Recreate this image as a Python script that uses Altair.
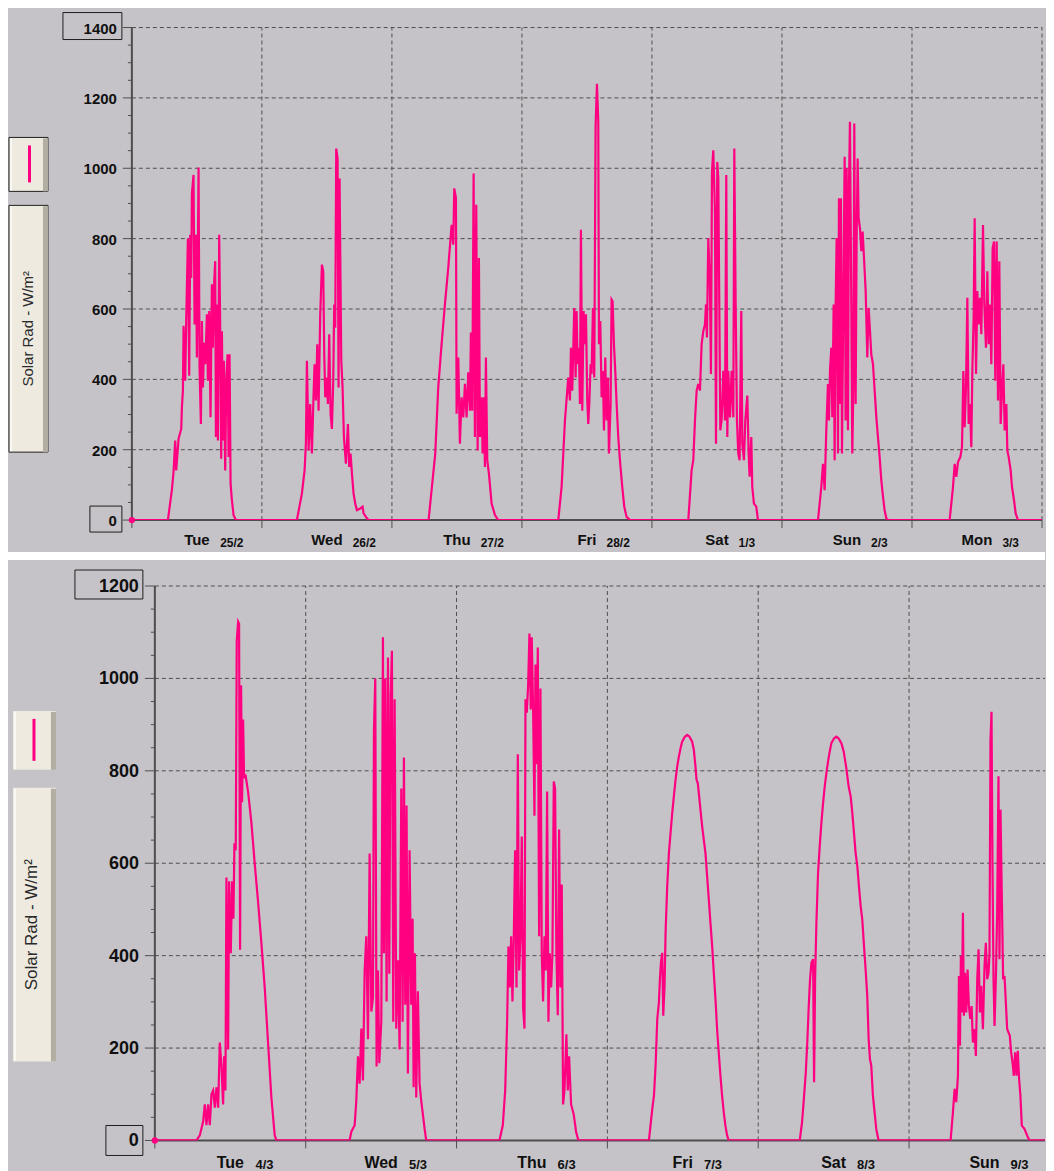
import altair as alt
import pandas as pd

GRAY = "#C5C3C7"
PINK = "#FF0080"
GRID = "#4E4E4E"
BEIGE = "#EEEAE0"
SHADOW = "#B2AEA2"
FONT = "Liberation Sans"

# ---------------- week 1 (top panel) ----------------
week1_days = ["Tue", "Wed", "Thu", "Fri", "Sat", "Sun", "Mon"]
week1_dates = ["25/2", "26/2", "27/2", "28/2", "1/3", "2/3", "3/3"]
week1_ticks = [0, 200, 400, 600, 800, 1000, 1200, 1400]

tue_25_2 = [(6.65,0),(7.38,85),(7.69,137),(8.00,226),(8.18,141),(8.62,231),(9.11,259),(9.23,320),(9.42,368),(9.54,552),(9.85,396),(10.03,570),(10.34,800),(10.58,410),(10.77,811),(10.95,688),(11.08,929),(11.38,981),(11.57,556),(11.82,811),(12.00,462),(12.31,1002),(12.49,434),(12.74,273),(12.92,566),(13.11,377),(13.35,504),(13.54,443),(13.85,585),(14.03,396),(14.28,594),(14.52,292),(14.77,670),(14.95,490),(15.20,679),(15.38,736),(15.51,236),(15.69,613),(15.88,226),(16.12,811),(16.31,537),(16.49,174),(16.62,537),(16.80,226),(16.98,453),(17.23,141),(17.42,396),(17.66,471),(17.85,179),(18.03,471),(18.22,104),(18.46,57),(18.77,14),(19.20,0)]
wed_26_2 = [(6.46,0),(7.38,75),(7.88,141),(8.12,217),(8.31,453),(8.62,198),(8.92,330),(9.23,189),(9.54,358),(9.72,443),(9.97,340),(10.22,500),(10.46,311),(10.77,585),(11.08,726),(11.32,707),(11.51,471),(11.69,349),(12.00,405),(12.18,330),(12.43,528),(12.68,302),(12.92,259),(13.17,396),(13.35,613),(13.54,547),(13.72,1056),(13.97,1028),(14.15,377),(14.34,971),(14.65,453),(14.89,377),(15.14,236),(15.51,160),(15.88,273),(16.12,151),(16.37,189),(16.62,132),(16.92,75),(17.23,47),(17.54,28),(18.15,33),(18.58,38),(18.77,19),(19.38,5),(19.69,0)]
thu_27_2 = [(6.77,0),(7.38,94),(8.00,189),(8.55,377),(9.17,500),(9.78,613),(10.40,717),(11.02,839),(11.32,783),(11.51,943),(11.82,915),(11.94,302),(12.25,462),(12.55,217),(12.86,349),(13.17,292),(13.48,387),(13.78,292),(14.09,420),(14.40,311),(14.58,533),(14.83,311),(15.08,985),(15.32,236),(15.57,896),(15.82,198),(16.06,745),(16.25,236),(16.55,349),(16.74,189),(16.98,349),(17.17,151),(17.35,462),(17.60,170),(17.91,132),(18.40,47),(19.02,14),(19.63,0)]
fri_28_2 = [(6.71,0),(7.32,94),(7.94,283),(8.55,405),(8.86,340),(9.05,490),(9.29,368),(9.66,603),(9.91,405),(10.09,594),(10.28,443),(10.52,490),(10.71,330),(10.89,825),(11.14,311),(11.38,594),(11.63,500),(11.82,585),(12.06,340),(12.25,273),(12.43,330),(12.68,443),(12.86,415),(13.11,603),(13.35,405),(13.60,1122),(13.85,1240),(14.09,1132),(14.22,500),(14.46,566),(14.71,349),(14.95,424),(15.14,255),(15.38,462),(15.63,283),(15.88,405),(16.06,189),(16.37,330),(16.55,627),(16.74,622),(16.98,500),(17.23,424),(17.48,330),(17.78,236),(18.09,170),(18.52,94),(18.89,38),(19.32,9),(19.94,0)]
sat_1_3 = [(6.71,0),(7.32,141),(7.63,170),(7.94,283),(8.25,368),(8.55,387),(8.86,368),(9.17,500),(9.48,537),(9.78,556),(9.97,613),(10.15,519),(10.40,802),(10.71,660),(10.89,415),(11.08,990),(11.32,1051),(11.63,877),(11.82,217),(12.06,1018),(12.25,971),(12.43,613),(12.62,255),(12.86,283),(13.17,424),(13.48,283),(13.72,981),(13.91,236),(14.09,424),(14.40,292),(14.71,424),(15.02,292),(15.20,1056),(15.45,613),(15.69,283),(15.94,189),(16.18,170),(16.49,594),(16.68,217),(16.98,170),(17.23,283),(17.60,354),(17.85,189),(18.03,123),(18.34,236),(18.52,94),(18.83,47),(19.26,38),(19.57,0)]
sun_2_3 = [(6.65,0),(7.26,94),(7.57,160),(7.88,85),(8.18,255),(8.49,387),(8.68,283),(8.86,424),(9.11,490),(9.29,292),(9.54,613),(9.72,170),(9.91,613),(10.09,802),(10.34,189),(10.52,915),(10.77,330),(10.89,915),(11.08,189),(11.32,613),(11.57,1033),(11.75,283),(11.94,1000),(12.18,255),(12.37,952),(12.55,1132),(12.80,613),(12.98,189),(13.17,368),(13.35,1127),(13.60,330),(13.78,802),(13.97,1028),(14.15,858),(14.40,830),(14.65,764),(14.89,820),(15.14,745),(15.45,651),(15.75,462),(16.00,603),(16.25,537),(16.49,471),(16.80,443),(17.11,368),(17.42,292),(17.72,236),(18.03,179),(18.34,113),(18.65,66),(18.95,28),(19.26,5),(19.57,0)]
mon_3_3 = [(6.95,0),(7.57,94),(7.88,160),(8.18,123),(8.49,165),(8.92,179),(9.23,207),(9.48,424),(9.72,264),(9.97,377),(10.22,632),(10.46,273),(10.71,330),(10.95,207),(11.14,424),(11.38,575),(11.57,858),(11.82,415),(12.06,651),(12.31,556),(12.55,632),(12.80,528),(13.11,839),(13.35,613),(13.66,490),(13.91,707),(14.15,500),(14.40,613),(14.65,443),(14.89,773),(15.14,792),(15.38,396),(15.63,792),(15.88,340),(16.12,736),(16.37,273),(16.62,368),(16.86,443),(17.11,255),(17.42,330),(17.60,198),(17.85,179),(18.22,141),(18.46,94),(18.83,57),(19.14,19),(19.57,0)]

# ---------------- week 2 (bottom panel) ----------------
week2_days = ["Tue", "Wed", "Thu", "Fri", "Sat", "Sun"]
week2_dates = ["4/3", "5/3", "6/3", "7/3", "8/3", "9/3"]
week2_ticks = [0, 200, 400, 600, 800, 1000, 1200]

tue_4_3 = [(6.62,0),(7.15,11),(7.68,41),(7.95,78),(8.21,33),(8.48,78),(8.74,33),(9.01,100),(9.27,108),(9.54,71),(9.80,115),(10.07,71),(10.33,212),(10.60,160),(10.86,78),(11.02,182),(11.23,108),(11.39,569),(11.66,197),(11.81,561),(12.08,405),(12.29,561),(12.50,480),(12.66,643),(12.87,628),(13.03,1082),(13.25,1123),(13.40,1119),(13.56,413),(13.72,985),(13.88,732),(14.04,911),(14.20,784),(14.41,792),(14.83,755),(15.36,688),(15.89,599),(16.42,517),(16.95,427),(17.48,331),(18.01,212),(18.54,93),(19.07,11),(19.34,0)]
wed_5_3 = [(6.99,0),(7.26,19),(7.79,33),(8.05,86),(8.32,182),(8.58,123),(8.85,242),(9.11,130),(9.38,368),(9.64,442),(9.91,219),(10.17,621),(10.44,279),(10.70,309),(10.86,888),(11.07,1000),(11.28,160),(11.50,368),(11.71,167),(12.03,257),(12.29,1089),(12.45,405),(12.66,1000),(12.87,301),(13.09,1045),(13.30,361),(13.51,963),(13.72,1060),(13.93,257),(14.15,955),(14.41,242),(14.68,390),(14.94,197),(15.21,762),(15.42,257),(15.63,829),(15.84,294),(16.05,725),(16.26,145),(16.53,628),(16.79,294),(17.01,480),(17.17,115),(17.38,405),(17.59,93),(17.85,323),(18.12,123),(18.38,86),(18.65,56),(18.91,26),(19.18,0)]
thu_6_3 = [(6.83,0),(7.36,33),(7.74,108),(8.05,257),(8.26,420),(8.48,331),(8.69,442),(8.90,301),(9.11,442),(9.32,628),(9.54,331),(9.75,836),(9.96,368),(10.17,442),(10.38,658),(10.60,286),(10.81,242),(10.97,955),(11.18,926),(11.39,985),(11.60,1097),(11.81,933),(11.97,1089),(12.19,926),(12.40,703),(12.56,1030),(12.72,814),(12.93,1067),(13.14,442),(13.35,978),(13.56,405),(13.77,301),(13.99,442),(14.20,368),(14.41,755),(14.62,257),(14.83,405),(15.05,331),(15.26,405),(15.47,777),(15.68,762),(15.89,405),(16.11,271),(16.32,673),(16.53,331),(16.74,554),(16.95,78),(17.17,108),(17.48,230),(17.70,108),(17.91,182),(18.23,78),(18.65,56),(19.02,19),(19.39,0)]
fri_7_3 = [(6.61,0),(7.14,68),(7.41,97),(7.67,162),(7.94,263),(8.20,299),(8.36,349),(8.52,385),(8.73,406),(8.89,270),(9.10,335),(9.26,450),(9.52,550),(9.79,622),(10.05,665),(10.32,709),(10.58,745),(10.85,781),(11.11,809),(11.38,831),(11.64,849),(11.90,863),(12.33,874),(12.70,878),(13.07,874),(13.49,863),(13.76,845),(14.02,809),(14.18,781),(14.39,773),(14.55,752),(14.81,716),(15.08,680),(15.34,651),(15.61,622),(15.87,572),(16.14,522),(16.40,471),(16.67,421),(16.93,363),(17.20,306),(17.46,241),(17.72,191),(17.99,140),(18.25,97),(18.52,61),(18.78,32),(19.05,11),(19.31,0)]
sat_8_3 = [(6.61,0),(6.98,40),(7.30,97),(7.57,147),(7.83,219),(8.04,291),(8.25,349),(8.47,385),(8.73,392),(8.89,126),(9.05,349),(9.26,471),(9.52,579),(9.79,637),(10.05,687),(10.32,730),(10.58,766),(10.85,795),(11.11,820),(11.38,842),(11.64,860),(12.06,870),(12.43,874),(12.80,870),(13.23,860),(13.60,842),(14.02,806),(14.39,766),(14.71,745),(14.97,709),(15.24,665),(15.50,622),(15.77,594),(16.03,550),(16.30,507),(16.56,478),(16.83,421),(17.09,370),(17.35,313),(17.57,219),(17.78,176),(17.99,162),(18.25,97),(18.52,61),(18.78,25),(19.15,0)]
sun_9_3 = [(6.61,0),(6.98,61),(7.25,112),(7.51,83),(7.78,140),(7.94,356),(8.10,205),(8.25,399),(8.41,277),(8.57,493),(8.73,270),(8.89,363),(9.10,277),(9.31,370),(9.52,291),(9.74,263),(9.95,291),(10.16,212),(10.42,241),(10.63,183),(10.85,349),(11.06,414),(11.27,277),(11.48,335),(11.75,241),(12.01,378),(12.22,428),(12.43,349),(12.65,363),(12.80,406),(12.96,867),(13.12,928),(13.28,586),(13.44,349),(13.60,248),(13.81,349),(14.02,493),(14.23,788),(14.39,392),(14.55,716),(14.76,529),(14.97,349),(15.19,356),(15.40,299),(15.61,241),(15.82,234),(16.03,227),(16.24,191),(16.46,169),(16.67,140),(16.88,191),(17.09,140),(17.30,194),(17.51,133),(17.72,97),(17.94,32),(18.36,25),(18.78,11),(19.15,0)]

legend_label = "Solar Rad - W/m²"

# Approximate Arial-bold advance widths (em), used to set the small date just after the day name
BOLD_W = {'T': .611, 'u': .611, 'e': .556, 'W': .944, 'd': .611, 'h': .611, 'F': .611,
          'r': .389, 'i': .278, 'S': .667, 'a': .556, 't': .333, 'n': .611, 'M': .833, 'o': .611}


def text_w(s, size):
    return sum(BOLD_W.get(c, .6) for c in s) * size


def series(days, end):
    t, v = [0.0], [0.0]
    for d, pts in enumerate(days):
        for h, val in pts:
            t.append(d * 24 + h)
            v.append(val)
    t.append(end)
    v.append(0.0)
    return pd.DataFrame({"t": t, "v": v})


def px(x1, x2, y1, y2):
    return dict(x=alt.value(x1), x2=alt.value(x2), y=alt.value(y1), y2=alt.value(y2))


def panel(df, names, dates, ticks, x0, xmax, W, H, P):
    one = pd.DataFrame({"a": [0]})
    ymax = ticks[-1]
    xs = alt.Scale(domain=[x0, xmax], nice=False, zero=False)
    ys = alt.Scale(domain=[0, ymax], nice=False, zero=False)
    X0 = alt.XDatum(0, scale=xs, axis=None)
    Y0 = alt.YDatum(0, scale=ys, axis=None)
    days = [24 * i for i in range(0, int(xmax // 24) + 1)]
    minor = [m for m in range(50, ymax, 50) if m % 200]

    layers = [alt.Chart(one).mark_rect(opacity=0).encode(**px(P["left"], P["right"], P["top"], P["bottom"]))]
    if P.get("gap"):
        g0, g1 = P["gap"]
        layers.append(alt.Chart(one).mark_rect(fill="white").encode(**px(P["left"], P["right"], g0, g1)))

    # dashed grid
    layers.append(alt.Chart(pd.DataFrame({"v": ticks[1:]})).mark_rule(
        color=GRID, strokeWidth=1, strokeDash=[4, 3]).encode(
        y=alt.Y("v:Q", scale=ys, axis=None), x=X0, x2=alt.datum(xmax)))
    layers.append(alt.Chart(pd.DataFrame({"t": days[1:]})).mark_rule(
        color=GRID, strokeWidth=1, strokeDash=[4, 3]).encode(
        x=alt.X("t:Q", scale=xs, axis=None), y=Y0, y2=alt.datum(ymax)))

    # axis lines and ticks
    layers.append(alt.Chart(one).mark_rule(color=GRID, strokeWidth=2).encode(x=X0, x2=alt.datum(xmax), y=Y0))
    layers.append(alt.Chart(one).mark_rule(color=GRID, strokeWidth=2).encode(x=X0, y=Y0, y2=alt.datum(ymax)))
    layers.append(alt.Chart(pd.DataFrame({"v": ticks})).mark_rule(
        color=GRID, strokeWidth=1, xOffset=-P["tick"]).encode(
        y=alt.Y("v:Q", scale=ys, axis=None), x=X0, x2=alt.datum(0)))
    layers.append(alt.Chart(pd.DataFrame({"v": minor})).mark_rule(
        color=GRID, strokeWidth=1, xOffset=-4).encode(
        y=alt.Y("v:Q", scale=ys, axis=None), x=X0, x2=alt.datum(0)))
    layers.append(alt.Chart(pd.DataFrame({"t": days})).mark_rule(
        color=GRID, strokeWidth=1, y2Offset=8).encode(
        x=alt.X("t:Q", scale=xs, axis=None), y=Y0, y2=alt.datum(0)))

    # y tick labels and boxes round the end labels
    layers.append(alt.Chart(pd.DataFrame({"v": ticks})).mark_text(
        font=FONT, fontWeight="bold", fontSize=P["ylab"], align="right", baseline="middle",
        dx=-(P["tick"] + 6), dy=1, color="#101010").encode(
        y=alt.Y("v:Q", scale=ys, axis=None), x=X0, text=alt.Text("v:Q")))
    for val, (xa, xb, ya, yb) in [(ymax, P["box_top"]), (0, P["box_zero"])]:
        layers.append(alt.Chart(one).mark_rect(
            fillOpacity=0, stroke="#1E1E1E", strokeWidth=1,
            xOffset=xa, x2Offset=xb, yOffset=ya, y2Offset=yb).encode(
            x=X0, x2=alt.datum(0), y=alt.YDatum(val, scale=ys, axis=None), y2=alt.datum(val)))

    # the series
    layers.append(alt.Chart(df).mark_line(color=PINK, strokeWidth=2.2, clip=True).encode(
        x=alt.X("t:Q", scale=xs, axis=None), y=alt.Y("v:Q", scale=ys, axis=None)))
    layers.append(alt.Chart(df.head(1)).mark_circle(color=PINK, size=40, opacity=1).encode(
        x=alt.X("t:Q", scale=xs, axis=None), y=alt.Y("v:Q", scale=ys, axis=None)))

    # day / date labels
    lab = pd.DataFrame({"c": [24 * i + 12 for i in range(len(names))], "name": names, "date": dates})
    layers.append(alt.Chart(lab).mark_text(
        font=FONT, fontWeight="bold", fontSize=P["name"], align="center", baseline="alphabetic",
        color="#101010").encode(x=alt.X("c:Q", scale=xs, axis=None), y=alt.value(H + P["name_base"]),
                                text="name:N"))
    for i, (n, d) in enumerate(zip(names, dates)):
        layers.append(alt.Chart(lab.iloc[[i]]).mark_text(
            font=FONT, fontWeight="bold", fontSize=P["date"], align="left", baseline="alphabetic",
            dx=text_w(n, P["name"]) / 2 + P["gapx"], color="#101010").encode(
            x=alt.X("c:Q", scale=xs, axis=None), y=alt.value(H + P["date_base"]), text="date:N"))

    # legend buttons
    L = P["leg"]
    lx0, lx1 = L["x"]
    for y0, y1 in [L["small"], L["tall"]]:
        if L["stroke"]:
            layers.append(alt.Chart(one).mark_rect(fill=BEIGE, stroke="#1E1E1E", strokeWidth=1).encode(
                **px(lx0, lx1, y0, y1)))
        else:
            layers.append(alt.Chart(one).mark_rect(fill=BEIGE).encode(**px(lx0, lx1, y0, y1)))
        layers.append(alt.Chart(one).mark_rect(fill=SHADOW).encode(**px(lx1 - 5, lx1, y0 + 1, y1)))
        layers.append(alt.Chart(one).mark_rect(fill="#FAF8F2").encode(**px(lx0 + 1, lx0 + 3, y0 + 1, y1 - 1)))
    layers.append(alt.Chart(one).mark_rule(color=PINK, strokeWidth=3).encode(
        x=alt.value(L["cx"]), y=alt.value(L["mark"][0]), y2=alt.value(L["mark"][1])))
    layers.append(alt.Chart(one).mark_text(
        font=FONT, fontSize=L["font"], angle=270, align="center", baseline="middle",
        color="#2A2A2A").encode(x=alt.value(L["tx"]), y=alt.value((L["tall"][0] + L["tall"][1]) / 2),
                                text=alt.value(legend_label)))

    return alt.layer(*layers).properties(width=W, height=H)


top_df = series([tue_25_2, wed_26_2, thu_27_2, fri_28_2, sat_1_3, sun_2_3, mon_3_3], 168)
bot_df = series([tue_4_3, wed_5_3, thu_6_3, fri_7_3, sat_8_3, sun_9_3], 150)

# Both panels share the same left edge of their plot group (page x = 132);
# the lower panel's time axis starts 23 px further right, so its domain begins slightly before 0.
# The page leaves 1038 px of width, so both panels end at page x = 1046.
PPH_BOTTOM = 6.291  # pixels per hour in the lower panel
W_BOTTOM = 914

top = panel(top_df, week1_days, week1_dates, week1_ticks, 0, 168, 911, 493, dict(
    left=-124, right=914, top=-19, bottom=533, gap=(525, 533), tick=9, ylab=15,
    box_top=(-69, -10, -15, 12), box_zero=(-42, -10, -14, 12),
    name=15, date=12, gapx=10, name_base=25, date_base=27,
    leg=dict(x=(-123, -84), small=(110, 164), tall=(178, 425), mark=(118, 155), cx=-102.5,
             tx=-104, font=15, stroke=True)))

bottom = panel(bot_df, week2_days, week2_dates, week2_ticks, -23 / PPH_BOTTOM,
               (W_BOTTOM - 23) / PPH_BOTTOM, W_BOTTOM, 555, dict(
    left=-124, right=W_BOTTOM, top=-26, bottom=585, gap=None, tick=10, ylab=18,
    box_top=(-80, -12, -16, 13), box_zero=(-49, -12, -15, 15),
    name=16, date=13, gapx=11, name_base=28, date_base=29,
    leg=dict(x=(-119, -76), small=(125, 184), tall=(202, 476), mark=(133, 175), cx=-98,
             tx=-100, font=17, stroke=False)))

chart = alt.concat(top, bottom, columns=1, spacing=0).properties(
    padding=0, background=GRAY
).configure_view(stroke=None)

chart.save("out.html", embed_options={"renderer": "svg", "actions": False})
